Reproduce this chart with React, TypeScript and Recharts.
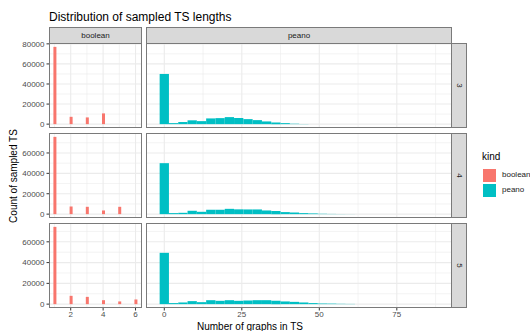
import { Bar, BarChart, CartesianGrid, XAxis, YAxis } from 'recharts'

const FACETS = ['3', '4', '5']

const BOOL_LENGTHS = [1, 2, 3, 4, 5, 6]
const BOOL_COUNTS_3 = [77000, 7300, 6700, 10700, 0, 0]
const BOOL_COUNTS_4 = [75800, 7500, 7200, 3600, 7200, 0]
const BOOL_COUNTS_5 = [74400, 8000, 7000, 3800, 2600, 4500]

const PEANO_BINS = [0, 3, 6, 9, 12, 15, 18, 21, 24, 27, 30, 33, 36, 39, 42, 45, 48, 51, 54, 57, 60, 63, 66, 69, 72, 75, 78, 81, 84, 87]
const PEANO_COUNTS_3 = [50000, 1000, 2100, 3800, 3000, 5700, 6000, 7000, 6100, 5000, 4000, 2700, 1700, 1000, 400, 150, 0, 0, 0, 0, 0, 0, 0, 0, 0, 0, 0, 0, 0, 0]
const PEANO_COUNTS_4 = [50000, 1000, 1300, 3300, 2300, 4300, 4300, 5200, 4700, 4600, 4600, 3600, 3000, 2000, 1600, 1000, 700, 350, 200, 100, 50, 0, 0, 0, 0, 0, 0, 0, 0, 0]
const PEANO_COUNTS_5 = [49400, 1000, 1600, 2900, 1900, 3800, 3200, 3800, 3200, 3500, 3800, 3800, 3200, 2600, 2200, 1600, 1000, 600, 500, 300, 200, 0, 0, 0, 0, 0, 0, 0, 0, 0]

const BOOL_X_MAJOR = [2, 4, 6]
const BOOL_X_MINOR = [1, 3, 5]
const PEANO_X_MAJOR = [0, 25, 50, 75]
const PEANO_X_MINOR = [12.5, 37.5, 62.5, 87.5]
const Y_MAJOR = [0, 20000, 40000, 60000, 80000]
const Y_MINOR = [10000, 30000, 50000, 70000]

const BOOL_COLOR = '#F8766D'
const PEANO_COLOR = '#00BFC4'
const FONT = '"Liberation Sans", Arial, sans-serif'

const ROW_TOP = [43, 133, 223]
const PANEL_H = 85
const PAD = 6
const BOOL_LEFT = 49
const BOOL_W = 93
const PEANO_LEFT = 146
const PEANO_W = 306
const BORDER = '#7a7a7a'

const toRows = (xs: number[], ys: number[]) => xs.map((x, i) => ({ x, n: ys[i] }))

const BOOL_DATA = [BOOL_COUNTS_3, BOOL_COUNTS_4, BOOL_COUNTS_5].map((c) => toRows(BOOL_LENGTHS, c))
const PEANO_DATA = [PEANO_COUNTS_3, PEANO_COUNTS_4, PEANO_COUNTS_5].map((c) => toRows(PEANO_BINS, c))

interface PanelProps {
  rows: { x: number; n: number }[]
  color: string
  xDomain: [number, number]
  xMajor: number[]
  xMinor: number[]
  yMax: number
  barSize: number
  showY: boolean
  showX: boolean
  width: number
  height: number
}

function Panel({ rows, color, xDomain, xMajor, xMinor, yMax, barSize, showY, showX, width, height }: PanelProps) {
  const yDomain: [number, number] = [-0.05 * yMax, 1.05 * yMax]
  const inY = (v: number) => v >= yDomain[0] && v <= yDomain[1]
  const tickStyle = { fontSize: 8, fill: '#4D4D4D' }
  return (
    <BarChart width={width} height={height} data={rows} margin={{ top: PAD, right: 0, bottom: 0, left: 0 }}>
      <CartesianGrid stroke="#EBEBEB" strokeWidth={0.6} verticalValues={xMinor} horizontalValues={Y_MINOR.filter(inY)} />
      <CartesianGrid stroke="#EBEBEB" strokeWidth={1.1} verticalValues={xMajor} horizontalValues={Y_MAJOR.filter(inY)} />
      <XAxis
        dataKey="x"
        type="number"
        domain={xDomain}
        allowDataOverflow
        ticks={xMajor}
        interval={0}
        hide={!showX}
        height={20}
        tick={tickStyle}
        tickLine={{ stroke: '#333333' }}
        tickSize={2.5}
        tickMargin={1}
        axisLine={false}
      />
      <YAxis
        type="number"
        domain={yDomain}
        allowDataOverflow
        ticks={Y_MAJOR.filter(inY)}
        interval={0}
        hide={!showY}
        width={BOOL_LEFT}
        tick={tickStyle}
        tickLine={{ stroke: '#333333' }}
        tickSize={2.5}
        tickMargin={2}
        axisLine={false}
      />
      <Bar dataKey="n" fill={color} barSize={barSize} isAnimationActive={false} />
    </BarChart>
  )
}

const box = (left: number, top: number, width: number, height: number, extra = {}) => ({
  position: 'absolute' as const,
  left,
  top,
  width,
  height,
  boxSizing: 'border-box' as const,
  ...extra,
})

export default function App() {
  return (
    <div style={{ position: 'absolute', left: 0, top: 0, width: 530, height: 331, background: '#fff', fontFamily: FONT, overflow: 'hidden' }}>
      <div style={box(49, 11, 300, 14, { fontSize: 12, lineHeight: '12px', color: '#000', whiteSpace: 'nowrap' })}>
        Distribution of sampled TS lengths
      </div>

      {FACETS.map((f, i) => {
        const last = i === FACETS.length - 1
        const yMax = Math.max(...BOOL_DATA[i].map((d) => d.n), ...PEANO_DATA[i].map((d) => d.n))
        const h = PAD + PANEL_H + (last ? 20 : 0)
        return (
          <div key={f}>
            <div style={box(0, ROW_TOP[i] - PAD, BOOL_LEFT + BOOL_W, h)}>
              <Panel rows={BOOL_DATA[i]} color={BOOL_COLOR} xDomain={[0.66, 6.4]} xMajor={BOOL_X_MAJOR} xMinor={BOOL_X_MINOR}
                yMax={yMax} barSize={3} showY showX={last} width={BOOL_LEFT + BOOL_W} height={h} />
            </div>
            <div style={box(PEANO_LEFT, ROW_TOP[i] - PAD, PEANO_W, h)}>
              <Panel rows={PEANO_DATA[i]} color={PEANO_COLOR} xDomain={[-5.9, 92.8]} xMajor={PEANO_X_MAJOR} xMinor={PEANO_X_MINOR}
                yMax={yMax} barSize={9.3} showY={false} showX={last} width={PEANO_W} height={h} />
            </div>
            <div style={box(BOOL_LEFT, ROW_TOP[i], BOOL_W, PANEL_H, { border: `1px solid ${BORDER}`, pointerEvents: 'none' })} />
            <div style={box(PEANO_LEFT, ROW_TOP[i], PEANO_W, PANEL_H, { border: `1px solid ${BORDER}`, pointerEvents: 'none' })} />
            <div style={box(PEANO_LEFT + PEANO_W - 1, ROW_TOP[i], 16, PANEL_H, { background: '#D9D9D9', border: `1px solid ${BORDER}`, display: 'flex', alignItems: 'center', justifyContent: 'center' })}>
              <span style={{ transform: 'rotate(90deg)', fontSize: 8, color: '#1A1A1A' }}>{f}</span>
            </div>
          </div>
        )
      })}

      {/* column strips, drawn after the charts so they sit on top */}
      <div style={box(BOOL_LEFT, 27, BOOL_W, 17, { background: '#D9D9D9', border: `1px solid ${BORDER}`, fontSize: 8, color: '#1A1A1A', textAlign: 'center', lineHeight: '15px' })}>
        boolean
      </div>
      <div style={box(PEANO_LEFT, 27, PEANO_W, 17, { background: '#D9D9D9', border: `1px solid ${BORDER}`, fontSize: 8, color: '#1A1A1A', textAlign: 'center', lineHeight: '15px' })}>
        peano
      </div>

      <div style={box(-86, 170, 200, 12, { transform: 'rotate(-90deg)', fontSize: 10, lineHeight: '12px', textAlign: 'center', color: '#000' })}>
        Count of sampled TS
      </div>
      <div style={box(150, 321, 200, 12, { fontSize: 10, lineHeight: '12px', textAlign: 'center', color: '#000' })}>
        Number of graphs in TS
      </div>

      <div style={box(482, 151, 40, 12, { fontSize: 10, lineHeight: '12px', color: '#000' })}>kind</div>
      <div style={box(482, 168, 15, 15, { background: BOOL_COLOR, border: '1px solid #fff' })} />
      <div style={box(482, 183, 15, 15, { background: PEANO_COLOR, border: '1px solid #fff' })} />
      <div style={box(502, 170, 40, 10, { fontSize: 8, lineHeight: '10px', color: '#1A1A1A' })}>boolean</div>
      <div style={box(502, 185, 40, 10, { fontSize: 8, lineHeight: '10px', color: '#1A1A1A' })}>peano</div>
    </div>
  )
}
